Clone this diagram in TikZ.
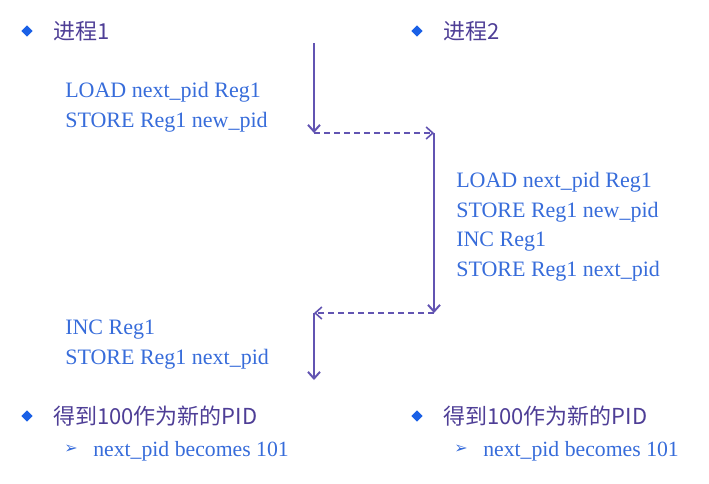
\documentclass[tikz,border=0pt]{standalone}
\usepackage{fontspec}
\setmainfont{Liberation Serif}
\newfontfamily\cjk{Noto Sans CJK SC}
\newfontfamily\symfont{DejaVu Sans}
\usetikzlibrary{arrows.meta,shapes.geometric}
\definecolor{codeblue}{RGB}{55,108,218}
\definecolor{titlepurple}{RGB}{78,62,150}
\definecolor{flowpurple}{RGB}{98,84,178}
\definecolor{dotblue}{RGB}{26,96,230}

\begin{document}
\begin{tikzpicture}[x=.75pt,y=-.75pt,
  dot/.style={diamond,fill=dotblue,inner sep=0pt,minimum size=8.5pt},
  title/.style={anchor=west,inner sep=0pt,text=titlepurple,font=\cjk\fontsize{16.5}{18}\selectfont},
  code/.style={anchor=base west,inner sep=0pt,text=codeblue,font=\fontsize{16.5}{18}\selectfont},
  subcode/.style={code,font=\fontsize{16.3}{18}\selectfont},
  subdot/.style={inner sep=0pt,text=codeblue,font=\symfont\fontsize{12}{13}\selectfont},
  run/.style={flowpurple,line width=1.5pt,-{Straight Barb[length=5pt,width=9pt]}},
  hand/.style={run,line width=1.2pt,dash pattern=on 4.5pt off 3pt}]
\path[use as bounding box] (0,0) rectangle (709,483);

% headings
\node[dot] (d1) at (27,31) {};
\node[title] (t1) at (53,31) {进程1};
\node[dot] (d2) at (417,31) {};
\node[title] (t2) at (443,31) {进程2};

% process 1, first part
\node[code] (p1l1) at (65,97) {LOAD next\_pid Reg1};
\node[code] (p1l2) at (65,127) {STORE Reg1 new\_pid};

% process 2
\node[code] (p2l1) at (456,187) {LOAD next\_pid Reg1};
\node[code] (p2l2) at (456,217) {STORE Reg1 new\_pid};
\node[code] (p2l3) at (456,246) {INC Reg1};
\node[code] (p2l4) at (456,276) {STORE Reg1 next\_pid};

% process 1, second part
\node[code] (p1l3) at (65,334) {INC Reg1};
\node[code] (p1l4) at (65,364) {STORE Reg1 next\_pid};

% switches
\coordinate (p1top) at (314,43);
\coordinate (p1a) at (314,133);
\coordinate (p2a) at (434,133);
\coordinate (p2b) at (434,313);
\coordinate (p1b) at (314,313);
\coordinate (p1end) at (314,380);
\draw[run] (p1top) -- (p1a);
\draw[hand] (p1a) -- (p2a);
\draw[run] (p2a) -- (p2b);
\draw[hand] (p2b) -- (p1b);
\draw[run] (p1b) -- (p1end);

% results
\node[dot] (d3) at (27,416) {};
\node[title] (t3) at (53,416) {得到100作为新的PID};
\node[subdot] (s1) at (71,449) {➢};
\node[subcode] (r1) at (93,456) {next\_pid becomes 101};
\node[dot] (d4) at (417,416) {};
\node[title] (t4) at (443,416) {得到100作为新的PID};
\node[subdot] (s2) at (461,449) {➢};
\node[subcode] (r2) at (483,456) {next\_pid becomes 101};
\end{tikzpicture}
\end{document}
